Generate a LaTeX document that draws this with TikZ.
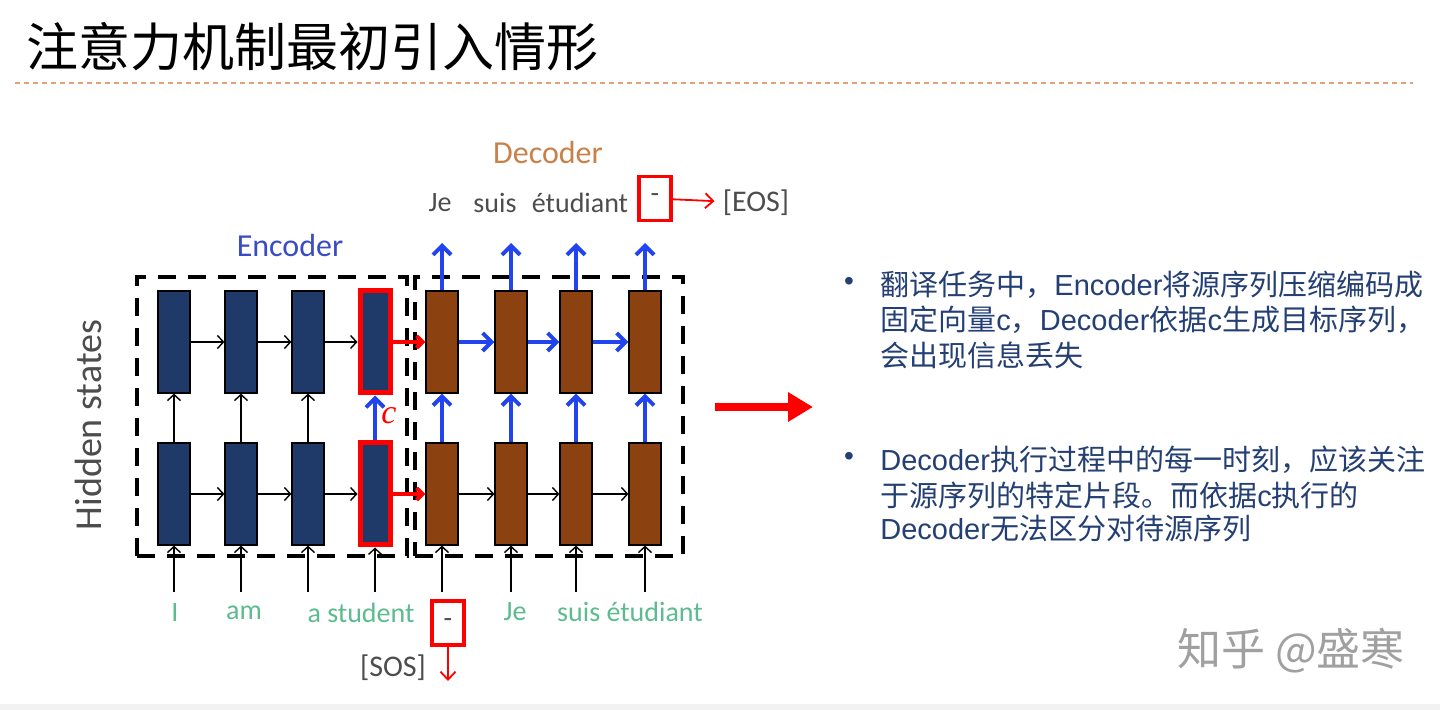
\documentclass[tikz,border=0pt]{standalone}
\usepackage{fontspec}
\setmainfont{Carlito}
\newfontfamily\cjk{Noto Sans CJK SC}
\newfontfamily\arialf{Liberation Sans}
\newfontfamily\serifc{Liberation Serif}
\usetikzlibrary{arrows.meta}
\definecolor{navy}{HTML}{1F3A68}
\definecolor{cellbrown}{HTML}{8B4210}
\definecolor{encblue}{HTML}{3A4CC4}
\definecolor{decorange}{HTML}{C8814A}
\definecolor{mint}{HTML}{5DBB8F}
\definecolor{txtgray}{HTML}{4D4D4D}
\definecolor{arrblue}{HTML}{2244EE}
\definecolor{txtnavy}{HTML}{243F73}
\definecolor{titleline}{HTML}{E6A078}
\definecolor{wmgray}{HTML}{A0A0A0}
\newcommand{\zh}[1]{{\cjk #1}}
\begin{document}
\begin{tikzpicture}[x=0.5pt,y=-0.5pt,
  enc/.style={draw=black, line width=0.6pt, fill=navy, minimum width=16pt, minimum height=51pt, inner sep=0pt},
  encred/.style={draw=red, line width=2.5pt, fill=navy, minimum width=15pt, minimum height=51pt, inner sep=0pt},
  dec/.style={enc, fill=cellbrown},
  dbox/.style={draw=black, line width=2pt, dash pattern=on 9pt off 6pt, inner sep=0pt},
  karr/.style={draw=black, line width=0.7pt, -{Straight Barb[length=3pt,width=6.5pt]}},
  barr/.style={draw=arrblue, line width=2pt, -{Straight Barb[length=4.5pt,width=9pt]}},
  rarr/.style={draw=red, line width=2pt, -{Straight Barb[length=3pt,width=6pt]}},
  rthin/.style={draw=red, line width=0.9pt, -{Straight Barb[length=4pt,width=7.5pt]}},
  word/.style={font=\fontsize{14}{16}\selectfont, inner sep=0pt},
  rbox/.style={draw=red, line width=1.6pt, minimum width=16pt, minimum height=22pt, inner sep=0pt, text=txtgray, font=\fontsize{14}{16}\selectfont},
  rline/.style={anchor=west, inner sep=0pt, text=txtnavy, font=\arialf\fontsize{14.5}{17}\selectfont},
  bullet/.style={inner sep=0pt, text=txtnavy, font=\arialf\fontsize{14}{16}\selectfont}
]
\useasboundingbox (0,0) rectangle (1440,710);
\fill[white] (0,0) rectangle (1440,710);
\fill[black!5] (0,704) rectangle (1440,710);

% title
\node[anchor=west, inner sep=0pt, font=\cjk\fontsize{26}{29}\selectfont] (title) at (26,47) {注意力机制最初引入情形};
\coordinate (tl1) at (15,83);
\coordinate (tl2) at (1413,83);
\draw[titleline, line width=0.8pt, dash pattern=on 2.5pt off 2pt] (tl1) -- (tl2);

% dashed boxes
\node[dbox, minimum width=135pt, minimum height=139.5pt] (encbox) at (272,416.5) {};
\node[dbox, minimum width=134pt, minimum height=139.5pt] (decbox) at (549,416.5) {};

% encoder cells
\node[enc] (e1t) at (174,342) {};
\node[enc] (e2t) at (241,342) {};
\node[enc] (e3t) at (308,342) {};
\node[encred] (e4t) at (375,342) {};
\node[enc] (e1b) at (174,494) {};
\node[enc] (e2b) at (241,494) {};
\node[enc] (e3b) at (308,494) {};
\node[encred] (e4b) at (375,494) {};

% decoder cells
\node[dec] (d1t) at (442,342) {};
\node[dec] (d2t) at (511,342) {};
\node[dec] (d3t) at (576,342) {};
\node[dec] (d4t) at (645,342) {};
\node[dec] (d1b) at (442,494) {};
\node[dec] (d2b) at (511,494) {};
\node[dec] (d3b) at (576,494) {};
\node[dec] (d4b) at (645,494) {};

% encoder horizontal
\draw[karr] (e1t) -- (e2t);
\draw[karr] (e2t) -- (e3t);
\draw[karr] (e3t) -- (e4t);
\draw[karr] (e1b) -- (e2b);
\draw[karr] (e2b) -- (e3b);
\draw[karr] (e3b) -- (e4b);
% encoder vertical
\draw[karr] (e1b) -- (e1t);
\draw[karr] (e2b) -- (e2t);
\draw[karr] (e3b) -- (e3t);
\draw[barr] (e4b) -- (e4t);
\node[anchor=west, inner sep=0pt, text=red, font=\serifc\itshape\fontsize{17}{18}\selectfont] (clab) at (381,416) {c};

% red links encoder -> decoder
\draw[rarr] (e4t) -- (d1t);
\draw[rarr] (e4b) -- (d1b);

% decoder horizontal
\draw[barr] (d1t) -- (d2t);
\draw[barr] (d2t) -- (d3t);
\draw[barr] (d3t) -- (d4t);
\draw[karr] (d1b) -- (d2b);
\draw[karr] (d2b) -- (d3b);
\draw[karr] (d3b) -- (d4b);
% decoder vertical
\draw[barr] (d1b) -- (d1t);
\draw[barr] (d2b) -- (d2t);
\draw[barr] (d3b) -- (d3t);
\draw[barr] (d4b) -- (d4t);

% decoder outputs
\coordinate (o1) at (442,243);
\coordinate (o2) at (511,243);
\coordinate (o3) at (576,243);
\coordinate (o4) at (645,243);
\draw[barr] (d1t) -- (o1);
\draw[barr] (d2t) -- (o2);
\draw[barr] (d3t) -- (o3);
\draw[barr] (d4t) -- (o4);

% inputs
\coordinate (i1) at (174,592);
\coordinate (i2) at (241,592);
\coordinate (i3) at (308,592);
\coordinate (i4) at (375,592);
\coordinate (i5) at (442,592);
\coordinate (i6) at (511,592);
\coordinate (i7) at (576,592);
\coordinate (i8) at (645,592);
\draw[karr] (i1) -- (e1b);
\draw[karr] (i2) -- (e2b);
\draw[karr] (i3) -- (e3b);
\draw[karr] (i4) -- (e4b);
\draw[karr] (i5) -- (d1b);
\draw[karr] (i6) -- (d2b);
\draw[karr] (i7) -- (d3b);
\draw[karr] (i8) -- (d4b);

% labels
\node[text=decorange, inner sep=0pt, font=\fontsize{16}{18}\selectfont] (declab) at (548,153) {Decoder};
\node[text=encblue, inner sep=0pt, font=\fontsize{16}{18}\selectfont] (enclab) at (290,246) {Encoder};
\node[text=txtgray, inner sep=0pt, rotate=90, font=\fontsize{19}{21}\selectfont] (hid) at (88,425) {Hidden states};

% top words
\node[word, text=txtgray] (wje) at (440,203) {Je};
\node[word, text=txtgray] (wsuis) at (495,203) {suis};
\node[word, text=txtgray] (wetu) at (580,203) {étudiant};
\node[rbox] (topbox) at (655,198.5) {-};
\node[word, text=txtgray, font=\fontsize{15}{17}\selectfont] (eos) at (756,203) {[EOS]};
\draw[rthin, shorten >=4pt] (topbox) -- (eos);

% bottom words
\node[word, text=mint] (bi) at (175,613) {I};
\node[word, text=mint] (bam) at (244,613) {am};
\node[word, text=mint] (bstu) at (361,613) {a student};
\node[rbox] (botbox) at (448,623) {-};
\node[word, text=mint] (bje) at (515,612) {Je};
\node[word, text=mint] (bsuis) at (630,612) {suis étudiant};
\node[word, text=txtgray, font=\fontsize{15}{17}\selectfont] (sos) at (393,668) {[SOS]};
\coordinate (sosend) at (448,681);
\draw[rthin] (botbox) -- (sosend);

% big red arrow
\coordinate (ba1) at (715,407);
\coordinate (ba2) at (813,407);
\draw[red, line width=4pt, -{Triangle[length=12.5pt,width=14pt]}] (ba1) -- (ba2);

% right text
\node[bullet] (b1) at (849,284) {•};
\node[rline] (l1) at (880,285) {\zh{翻译任务中，}Encoder\zh{将源序列压缩编码成}};
\node[rline] (l2) at (880,320) {\zh{固定向量}c\zh{，}Decoder\zh{依据}c\zh{生成目标序列，}};
\node[rline] (l3) at (880,355) {\zh{会出现信息丢失}};
\node[bullet] (b2) at (849,459) {•};
\node[rline] (l4) at (880,460) {Decoder\zh{执行过程中的每一时刻，应该关注}};
\node[rline] (l5) at (880,495) {\zh{于源序列的特定片段。而依据}c\zh{执行的}};
\node[rline] (l6) at (880,528) {Decoder\zh{无法区分对待源序列}};

% watermark
\node[anchor=west, inner sep=0pt, text=wmgray, font=\cjk\fontsize{22}{24}\selectfont] (wm) at (1177,651) {知乎 @盛寒};
\end{tikzpicture}
\end{document}
